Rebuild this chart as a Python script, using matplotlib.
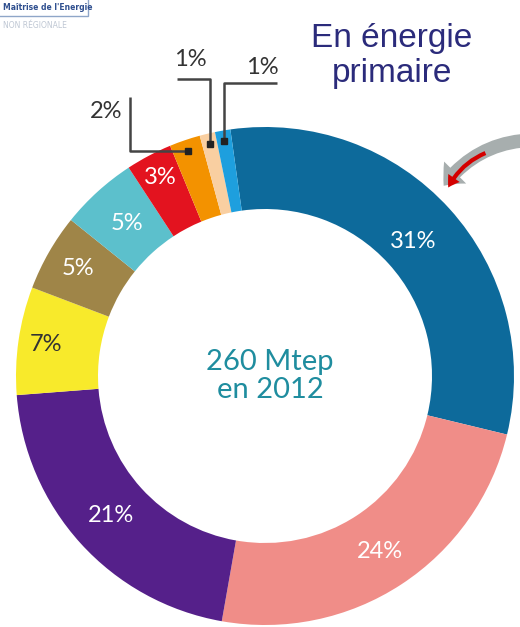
import numpy as np
import matplotlib.pyplot as plt
from matplotlib.patches import FancyArrowPatch, Rectangle

# shares of primary energy, clockwise from the top
shares = [31, 24, 21, 7, 5, 5, 3, 2, 1, 1]
labels = ['31%', '24%', '21%', '7%', '5%', '5%', '3%', '2%', '1%', '1%']
colors = ['#0d6a9b', '#f08d88', '#55208a', '#f8ea2b', '#9f8548',
          '#5cc0cc', '#e3131f', '#f39200', '#f9cfa1', '#1e9fde']
label_colors = ['white', 'white', 'white', '#333333', 'white',
                'white', 'white', '#333333', '#333333', '#333333']

W, H = 520, 627
fig = plt.figure(figsize=(W / 100, H / 100), dpi=100)
ax = fig.add_axes([0, 0, 1, 1])

cx, cy = 265, H - 376
R = 249
ring = 82

wedges, _ = ax.pie(shares, colors=colors, startangle=98, counterclock=False,
                   center=(cx, cy), radius=R, frame=True,
                   wedgeprops=dict(width=ring, linewidth=0))
ax.set_xlim(0, W)
ax.set_ylim(0, H)
ax.set_aspect('equal')
ax.axis('off')

lab_font = ['Lato', 'DejaVu Sans']

# labels inside the ring for the bigger wedges
label_r = {0: 200, 1: 210, 2: 208, 3: 221, 4: 216, 5: 206, 6: 224}
for i, w in enumerate(wedges):
    mid = np.deg2rad((w.theta1 + w.theta2) / 2)
    if i in label_r:
        r = label_r[i]
        ax.text(cx + r * np.cos(mid), cy + r * np.sin(mid), labels[i],
                color=label_colors[i], fontsize=17, ha='center', va='center',
                family=lab_font)

# leader lines for the three small wedges
line_c = '#444444'
small_pos = [(106, 112), (190, 60), (262, 68)]
for k, i in enumerate([7, 8, 9]):
    w = wedges[i]
    mid = np.deg2rad((w.theta1 + w.theta2) / 2)
    dx, dy = cx + 238 * np.cos(mid), cy + 238 * np.sin(mid)
    if k == 0:
        pts = [(dx, dy), (130, dy), (130, H - 97)]
    elif k == 1:
        pts = [(dx, dy), (dx, H - 79), (177, H - 79)]
    else:
        pts = [(dx, dy), (dx, H - 83), (277, H - 83)]
    xs, ys = zip(*pts)
    ax.plot(xs, ys, color=line_c, lw=1.8, solid_capstyle='butt')
    ax.plot(dx, dy, marker='s', ms=5, color='#222222')
    ax.text(small_pos[k][0], H - small_pos[k][1], labels[i], color='#333333',
            fontsize=17, ha='center', va='center', family=lab_font)

# centre text
ax.text(cx + 5, H - 376, '260 Mtep\nen 2012', color='#1f8d9f', fontsize=21,
        ha='center', va='center', linespacing=1.1, family=lab_font)

# title
ax.text(392, H - 56, 'En énergie\nprimaire', color='#2b2b7b', fontsize=24,
        ha='center', va='center', linespacing=1.15,
        family=['Liberation Sans', 'DejaVu Sans'])

# logo fragment top left
ax.add_patch(Rectangle((-2, H - 16), 90, 18, facecolor='white',
                       edgecolor='#8fa6c8', lw=1))
ax.text(3, H - 8, "Maîtrise de l'Energie", color='#2f4f8f', fontsize=5.5,
        ha='left', va='center', fontweight='bold')
ax.text(3, H - 25, 'NON RÉGIONALE', color='#7f8fa8', fontsize=5.5,
        ha='left', va='center', alpha=0.5)

# curved arrow pointing at the blue wedge
ax.add_patch(FancyArrowPatch((535, H - 140), (442, H - 188),
                             connectionstyle='arc3,rad=0.25',
                             arrowstyle='simple,head_width=1.6,head_length=0.9,tail_width=0.7',
                             mutation_scale=14, color='#a7aeae', lw=0))
ax.add_patch(FancyArrowPatch((488, H - 152), (447, H - 190),
                             connectionstyle='arc3,rad=0.2',
                             arrowstyle='simple,head_width=1.0,head_length=0.8,tail_width=0.3',
                             mutation_scale=10, color='#d40000', lw=0))

fig.savefig('out.png', dpi=100, facecolor='white')
